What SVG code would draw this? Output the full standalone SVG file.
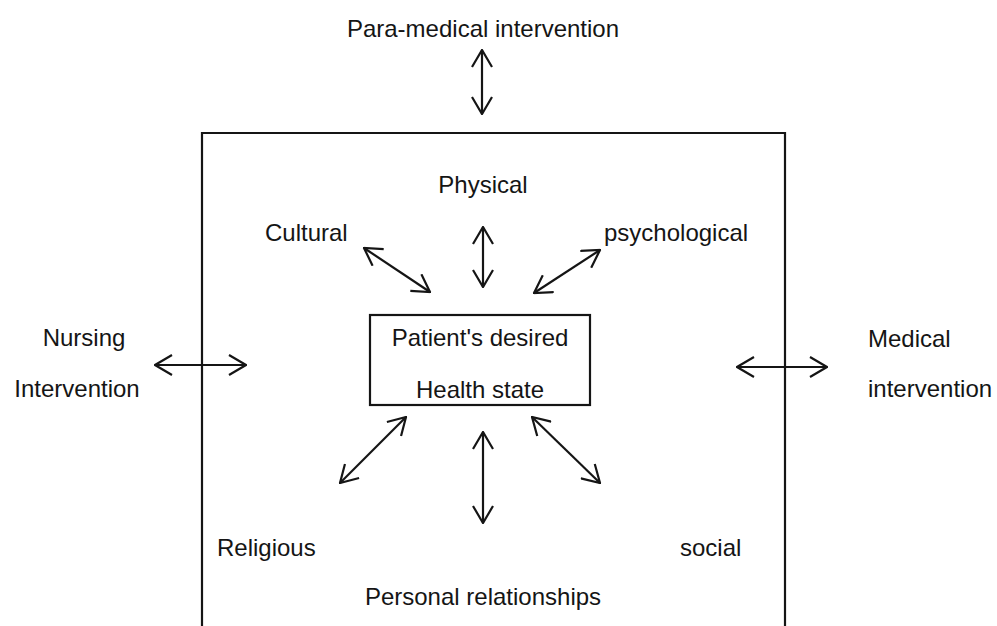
<svg xmlns="http://www.w3.org/2000/svg" width="997" height="626" viewBox="0 0 997 626">
<defs>
<style>
text{font-family:"Liberation Sans",Arial,sans-serif;font-size:24px;fill:#151515}
.c{text-anchor:middle}
.box{fill:none;stroke:#151515;stroke-width:2.2}
.ar{stroke:#151515;stroke-width:2.2;fill:none;marker-start:url(#ah);marker-end:url(#ah)}
</style>
<marker id="ah" viewBox="0 0 19 22" refX="18" refY="11" markerWidth="19" markerHeight="22" markerUnits="userSpaceOnUse" orient="auto-start-reverse">
<path d="M1,1 L18,11 L1,21" fill="none" stroke="#151515" stroke-width="2.2"/>
</marker>
</defs>
<rect width="997" height="626" fill="#ffffff"/>
<g id="outer-box"><path class="box" d="M202,626 V133 H785 V626"/></g>
<g id="para-medical"><text class="c" x="483" y="37">Para-medical intervention</text></g>
<g id="physical"><text class="c" x="483" y="193">Physical</text></g>
<g id="cultural"><text x="265" y="241">Cultural</text></g>
<g id="psychological"><text x="604" y="241">psychological</text></g>
<g id="center"><rect class="box" x="370" y="315" width="220" height="90"/><text class="c" x="480" y="346">Patient's desired</text><text class="c" x="480" y="398">Health state</text></g>
<g id="nursing"><text class="c" x="84" y="346">Nursing</text><text class="c" x="77" y="397">Intervention</text></g>
<g id="medical"><text x="868" y="347">Medical</text><text x="868" y="397">intervention</text></g>
<g id="religious"><text x="217" y="556">Religious</text></g>
<g id="social"><text x="680" y="556">social</text></g>
<g id="personal"><text class="c" x="483" y="605">Personal relationships</text></g>
<g id="connectors">
<line class="ar" x1="482" y1="50" x2="482" y2="114"/>
<line class="ar" x1="483" y1="227" x2="483" y2="287"/>
<line class="ar" x1="364" y1="248" x2="430" y2="292"/>
<line class="ar" x1="600" y1="250" x2="534" y2="293"/>
<line class="ar" x1="406" y1="417" x2="340" y2="483"/>
<line class="ar" x1="483" y1="432" x2="483" y2="523"/>
<line class="ar" x1="532" y1="417" x2="600" y2="483"/>
<line class="ar" x1="155" y1="365" x2="246" y2="365"/>
<line class="ar" x1="737" y1="367" x2="827" y2="367"/>
</g>
</svg>
